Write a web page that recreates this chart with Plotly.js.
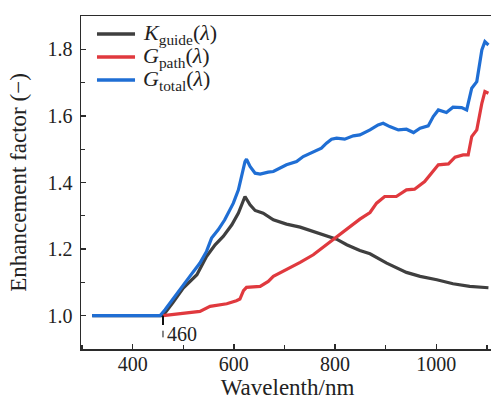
<!DOCTYPE html>
<html>
<head>
<meta charset="utf-8">
<script src="https://cdn.plot.ly/plotly-3.0.1.min.js"></script>
<style>
html,body{margin:0;padding:0;overflow:hidden;background:#fff;}
#chart{width:494px;height:401px;}
</style>
</head>
<body>
<div id="chart"></div>
<script>
// ---- data ----
const seriesNames = ['<i>K</i><sub>guide</sub>(<i>λ</i>)', '<i>G</i><sub>path</sub>(<i>λ</i>)', '<i>G</i><sub>total</sub>(<i>λ</i>)'];

const kGuideX = [320, 460, 480, 500, 527, 546, 563, 579, 596, 609, 622, 632, 642, 658, 678, 704, 731, 757, 783, 803, 823, 849, 869, 885, 902, 941, 968, 1001, 1033, 1066, 1103];
const kGuideY = [1.0, 1.0, 1.04, 1.083, 1.123, 1.178, 1.213, 1.238, 1.273, 1.308, 1.358, 1.333, 1.316, 1.308, 1.288, 1.275, 1.266, 1.253, 1.238, 1.230, 1.213, 1.196, 1.186, 1.173, 1.158, 1.130, 1.118, 1.108, 1.096, 1.088, 1.084];

const gPathX = [460, 500, 533, 553, 586, 605, 612, 619, 625, 652, 668, 678, 704, 731, 757, 783, 803, 823, 849, 869, 882, 898, 921, 941, 957, 977, 991, 1004, 1024, 1037, 1053, 1063, 1070, 1080, 1090, 1096, 1103];
const gPathY = [1.0, 1.006, 1.013, 1.028, 1.036, 1.045, 1.05, 1.075, 1.085, 1.088, 1.103, 1.118, 1.138, 1.16, 1.183, 1.213, 1.238, 1.26, 1.29, 1.31, 1.338, 1.358, 1.358, 1.378, 1.38, 1.403, 1.428, 1.453, 1.456, 1.476, 1.483, 1.483, 1.538, 1.558, 1.638, 1.673, 1.668];

const gTotalX = [320, 454, 464, 474, 494, 513, 533, 546, 556, 569, 582, 599, 609, 615, 622, 625, 632, 642, 652, 668, 678, 704, 724, 737, 757, 773, 783, 793, 803, 819, 836, 849, 869, 885, 895, 908, 925, 941, 955, 968, 984, 994, 1004, 1020, 1033, 1050, 1060, 1070, 1080, 1090, 1096, 1103];
const gTotalY = [1.0, 1.0, 1.018, 1.039, 1.078, 1.118, 1.158, 1.193, 1.233, 1.258, 1.288, 1.338, 1.378, 1.418, 1.463, 1.47, 1.448, 1.428, 1.425, 1.431, 1.433, 1.453, 1.463, 1.478, 1.493, 1.503, 1.518, 1.530, 1.533, 1.530, 1.540, 1.543, 1.558, 1.573, 1.578, 1.568, 1.558, 1.56, 1.55, 1.563, 1.57, 1.598, 1.618, 1.61, 1.626, 1.625, 1.618, 1.683, 1.703, 1.798, 1.823, 1.813];

const xTicks = [400, 600, 800, 1000];
const yTicks = [1.0, 1.2, 1.4, 1.6, 1.8];
const yTickLabels = ['1.0', '1.2', '1.4', '1.6', '1.8'];
const onsetWavelength = 460;
const onsetLabel = '460';

// ---- styles ----
const FONT = 'Liberation Serif, Times New Roman, serif';
const colors = ['#3f3f3f', '#e0393e', '#1f6ed4'];
const axisColor = '#2b2b2b';
const textColor = '#222';

const traces = [
  {x: kGuideX, y: kGuideY, name: seriesNames[0]},
  {x: gPathX, y: gPathY, name: seriesNames[1]},
  {x: gTotalX, y: gTotalY, name: seriesNames[2]}
].map((t, i) => Object.assign(t, {
  type: 'scatter', mode: 'lines', showlegend: false,
  line: {color: colors[i], width: 3.2, shape: 'linear'}
}));

// legend drawn as shapes + annotations (paper coordinates)
const legendRows = [0.946, 0.877, 0.808];
const legendShapes = seriesNames.map((n, i) => ({
  type: 'line', xref: 'paper', yref: 'paper',
  x0: 0.0387, x1: 0.1308, y0: legendRows[i], y1: legendRows[i],
  line: {color: colors[i], width: 3.6}
}));
const legendTexts = seriesNames.map((n, i) => ({
  xref: 'paper', yref: 'paper', x: 0.1501, y: legendRows[i],
  xanchor: 'left', yanchor: 'middle', align: 'left', borderpad: 0, xshift: -1,
  text: n, showarrow: false,
  font: {family: FONT, size: 22, color: textColor}
}));

const layout = {
  width: 494, height: 401,
  margin: {l: 81, r: 0, t: 16, b: 52, pad: 0},
  paper_bgcolor: '#fff', plot_bgcolor: '#fff',
  font: {family: FONT, size: 20, color: textColor},
  showlegend: false,
  xaxis: {
    range: [298, 1114],
    tickmode: 'array', tickvals: xTicks,
    ticks: 'inside', ticklen: 5, tickwidth: 1.3, tickcolor: axisColor,
    minor: {dtick: 100, tick0: 0, ticks: 'inside', ticklen: 4, tickwidth: 1.2, tickcolor: axisColor},
    showline: true, linecolor: axisColor, linewidth: 1.5, mirror: true,
    showgrid: false, zeroline: false,
    ticklabelstandoff: -4,
    tickfont: {family: FONT, size: 20, color: textColor},
    title: {text: 'Wavelenth/nm', font: {family: FONT, size: 23, color: textColor}, standoff: 5}
  },
  yaxis: {
    range: [0.9, 1.9],
    tickmode: 'array', tickvals: yTicks, ticktext: yTickLabels,
    ticks: 'inside', ticklen: 5, tickwidth: 1.3, tickcolor: axisColor,
    minor: {dtick: 0.1, tick0: 0, ticks: 'inside', ticklen: 4, tickwidth: 1.2, tickcolor: axisColor},
    showline: true, linecolor: axisColor, linewidth: 1.5, mirror: true,
    showgrid: false, zeroline: false,
    ticklabelstandoff: 3,
    tickfont: {family: FONT, size: 20, color: textColor},
    title: {text: 'Enhancement factor (−)', font: {family: FONT, size: 23, color: textColor}, standoff: 14}
  },
  shapes: [
    {type: 'line', xref: 'x', yref: 'y', x0: onsetWavelength, x1: onsetWavelength, y0: 1.0, y1: 0.972,
     line: {color: '#111', width: 2}},
    {type: 'line', xref: 'x', yref: 'y', x0: onsetWavelength, x1: onsetWavelength, y0: 0.955, y1: 0.935,
     line: {color: '#111', width: 1}}
  ].concat(legendShapes),
  annotations: [
    {x: onsetWavelength, y: 0.945, xref: 'x', yref: 'y', text: onsetLabel, showarrow: false,
     xanchor: 'left', yanchor: 'middle', align: 'left', borderpad: 0, xshift: 3,
     font: {family: FONT, size: 20, color: textColor}}
  ].concat(legendTexts)
};

Plotly.newPlot('chart', traces, layout, {displayModeBar: false, staticPlot: true});
</script>
</body>
</html>
